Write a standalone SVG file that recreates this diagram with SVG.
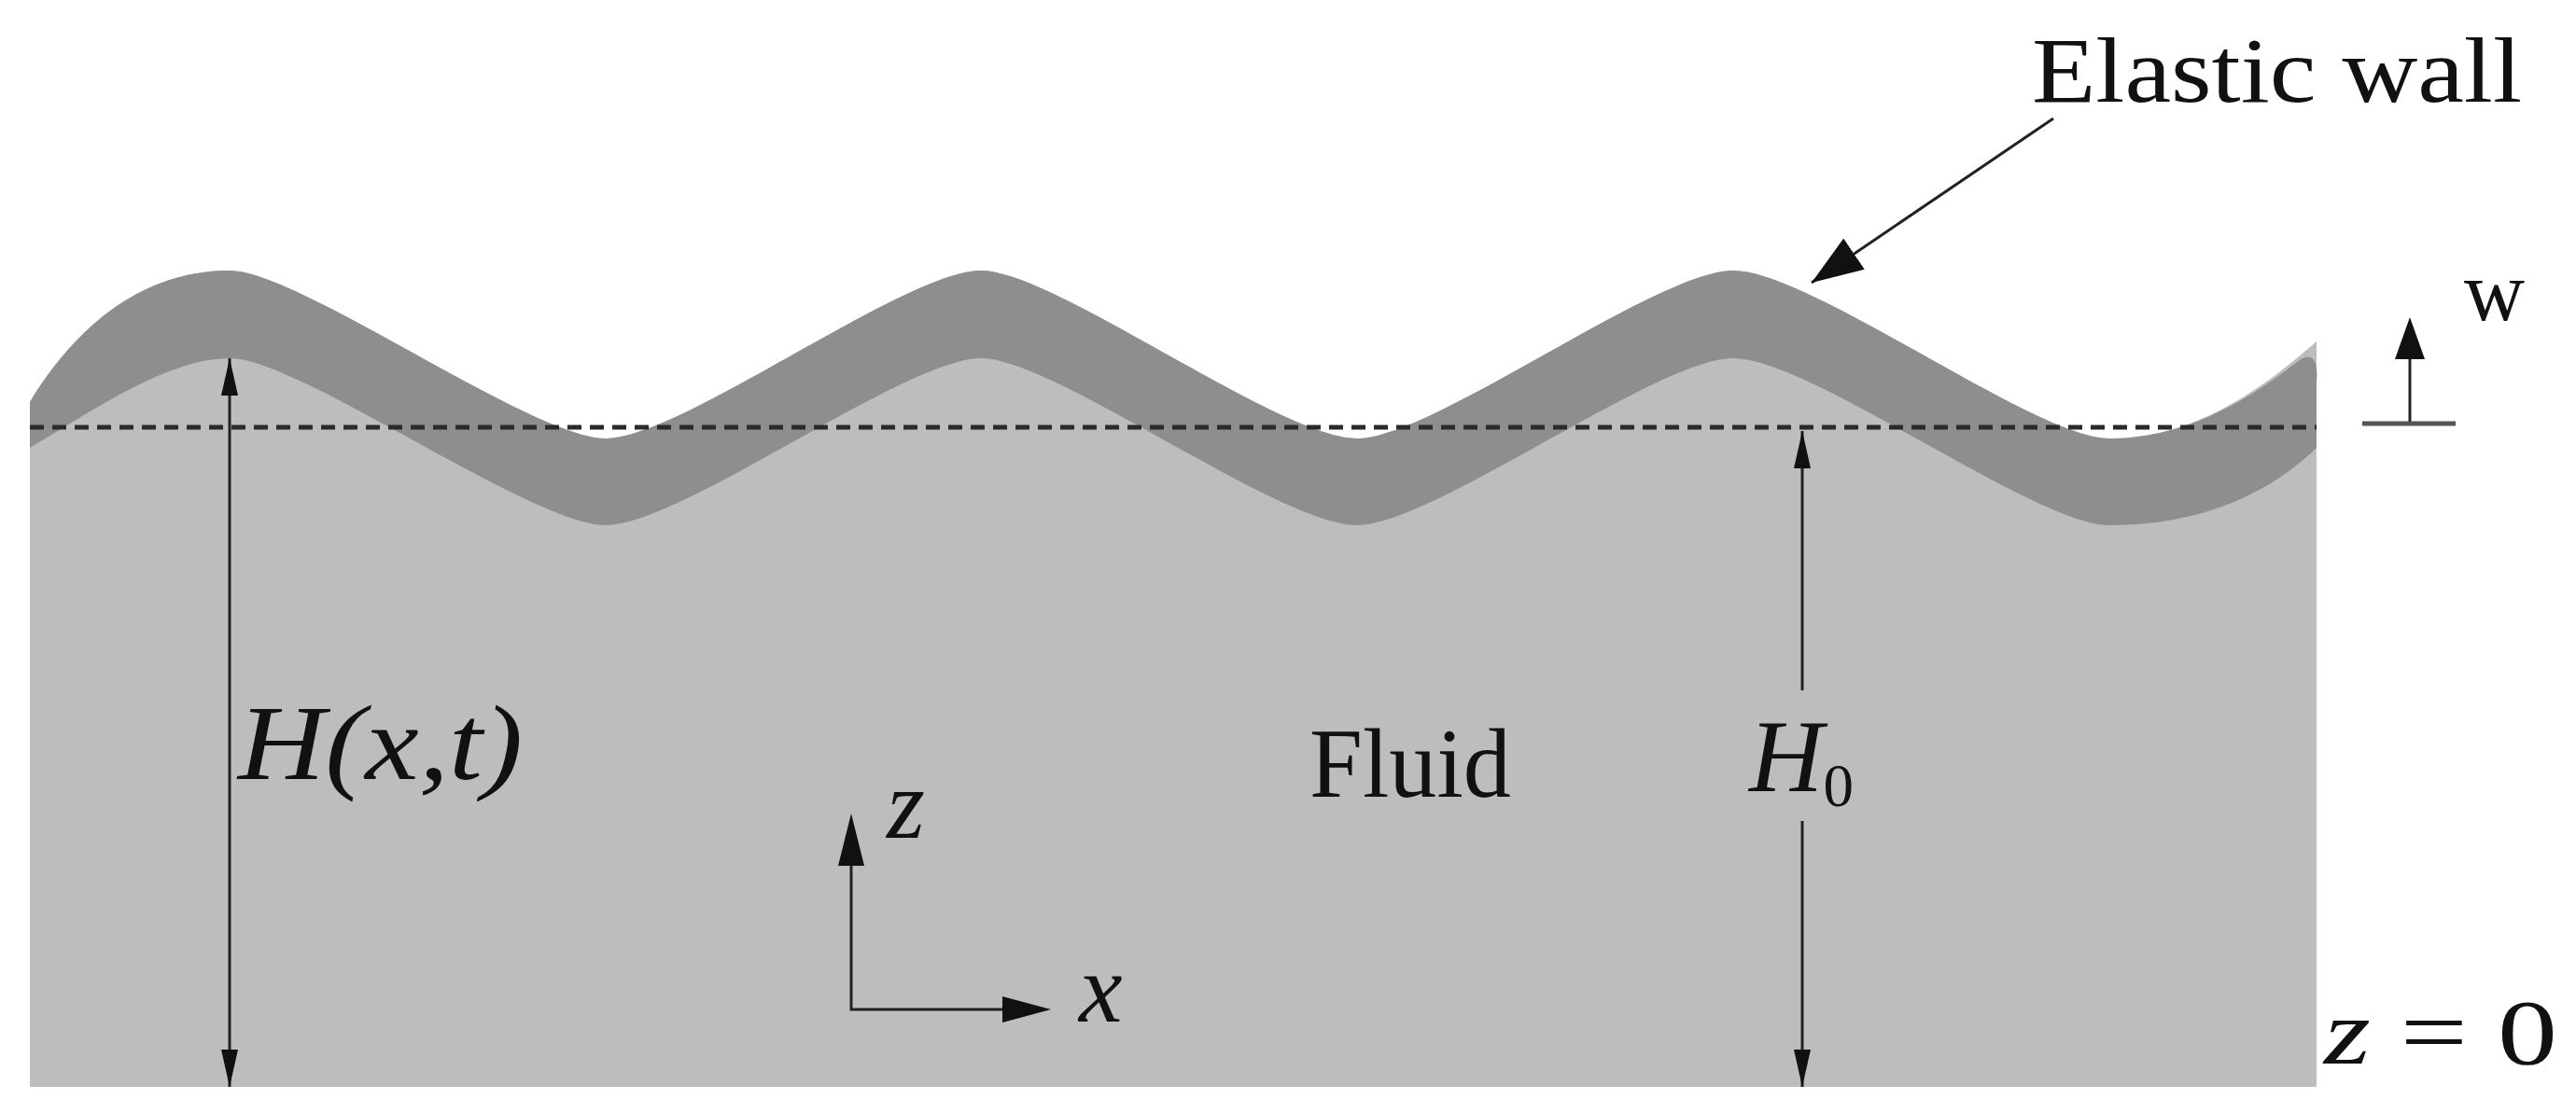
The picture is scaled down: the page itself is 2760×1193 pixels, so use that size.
<svg xmlns="http://www.w3.org/2000/svg" width="2760" height="1193" viewBox="0 0 2760 1193">
<style>
.t{font-family:"Liberation Serif","Times New Roman",serif;fill:#111}
.i{font-style:italic}
.ln{stroke:#222;stroke-width:3;fill:none}
</style>
<defs>
<marker id="ah" viewBox="0 0 10 10" refX="10" refY="5" markerWidth="40" markerHeight="18" markerUnits="userSpaceOnUse" orient="auto-start-reverse" preserveAspectRatio="none"><path d="M0,0 L10,5 L0,10 z" fill="#111"/></marker>
<marker id="ab" viewBox="0 0 10 10" refX="10" refY="5" markerWidth="55" markerHeight="40" markerUnits="userSpaceOnUse" orient="auto" preserveAspectRatio="none"><path d="M0,0 L10,5 L0,10 z" fill="#111"/></marker>
</defs>
<rect width="2760" height="1193" fill="#fff"/>
<g id="fluid">
<path fill="#bdbdbd" d="M32,431 C100,320 180,290 246,290 C320,290 570,470 649,470 C730,470 970,290 1051,290 C1130,290 1370,470 1454,470 C1535,470 1775,290 1857,290 C1940,290 2180,470 2260,470 C2350,470 2420,420 2482,366 L2482,1165 L32,1165 Z"/>
</g>
<g id="wall">
<path fill="#8e8e8e" d="M32,431 C100,320 180,290 246,290 C320,290 570,470 649,470 C730,470 970,290 1051,290 C1130,290 1370,470 1454,470 C1535,470 1775,290 1857,290 C1940,290 2180,470 2260,470 C2350,470 2420,420 2465,385 Q2485,375 2482,410 L2482,480 C2420,540 2340,563 2260,563 C2180,563 1940,384 1857,384 C1775,384 1535,563 1454,563 C1370,563 1130,384 1051,384 C970,384 730,563 649,563 C570,563 320,384 246,384 C180,384 100,440 32,480 Z"/>
</g>
<g id="connectors">
<line x1="32" y1="458" x2="2482" y2="458" stroke="#2a2a2a" stroke-width="5" stroke-dasharray="15,9"/>
<line class="ln" x1="246" y1="384" x2="246" y2="1165" marker-start="url(#ah)" marker-end="url(#ah)"/>
<line class="ln" x1="1931" y1="462" x2="1931" y2="740" marker-start="url(#ah)"/>
<line class="ln" x1="1931" y1="880" x2="1931" y2="1165" marker-end="url(#ah)"/>
<polyline class="ln" points="912,880 912,1082 1118,1082"/>
<path d="M912,872 L898,928 L926,928 Z" fill="#111"/>
<path d="M1126,1082 L1074,1068 L1074,1096 Z" fill="#111"/>
<line class="ln" x1="2200" y1="127" x2="1941" y2="303" marker-end="url(#ab)"/>
<line class="ln" x1="2582" y1="454" x2="2582" y2="352"/>
<path d="M2582,340 L2566,385 L2598,385 Z" fill="#111"/>
<line x1="2531" y1="454" x2="2631" y2="454" stroke="#555" stroke-width="5"/>
</g>
<g id="labels">
<text class="t" x="2177" y="109" font-size="100" textLength="525" lengthAdjust="spacingAndGlyphs">Elastic wall</text>
<text class="t" x="2640" y="343" font-size="90">w</text>
<text class="t i" x="255" y="835" font-size="115" textLength="305" lengthAdjust="spacingAndGlyphs">H(x,t)</text>
<text class="t" x="1403" y="854" font-size="105" textLength="216" lengthAdjust="spacingAndGlyphs">Fluid</text>
<text class="t i" x="1874" y="848" font-size="110">H<tspan font-style="normal" font-size="65" dy="16">0</tspan></text>
<text class="t i" x="950" y="898" font-size="105">z</text>
<text class="t i" x="1156" y="1095" font-size="105">x</text>
<text class="t" x="2490" y="1140" font-size="100" textLength="250" lengthAdjust="spacingAndGlyphs"><tspan font-style="italic">z</tspan> = 0</text>
</g>
</svg>
